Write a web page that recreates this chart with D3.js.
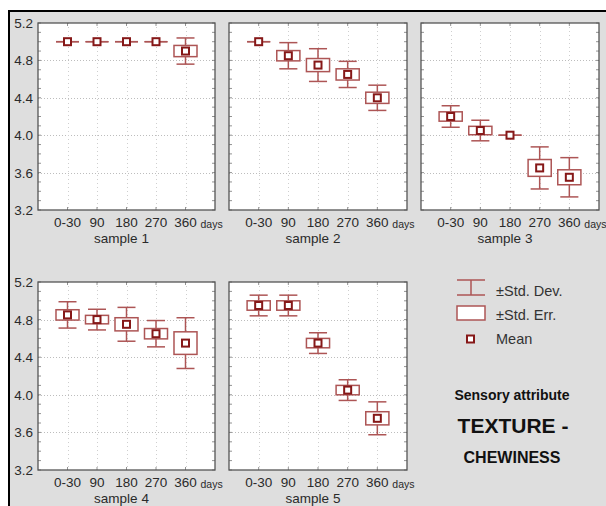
<!DOCTYPE html>
<html>
<head>
<meta charset="utf-8">
<script src="https://cdn.jsdelivr.net/npm/d3@7"></script>
<style>
  html, body { margin: 0; padding: 0; background: #fff; }
  svg { display: block; }
  text { font-family: "Liberation Sans", Arial, sans-serif; }
</style>
</head>
<body>
<div id="chart"></div>
<script>
// Storage time categories (days)
const categories = ["0-30", "90", "180", "270", "360"];
const yTicks = [3.2, 3.6, 4.0, 4.4, 4.8, 5.2];
const sampleNames = ["sample 1", "sample 2", "sample 3", "sample 4", "sample 5"];

// Chewiness scores per sample: mean, standard error, standard deviation
const mean1 = [5.0, 5.0, 5.0, 5.0, 4.9];
const se1   = [0, 0, 0, 0, 0.06];
const sd1   = [0, 0, 0, 0, 0.14];

const mean2 = [5.0, 4.85, 4.75, 4.65, 4.4];
const se2   = [0, 0.055, 0.07, 0.06, 0.06];
const sd2   = [0, 0.14, 0.175, 0.14, 0.135];

const mean3 = [4.2, 4.05, 4.0, 3.65, 3.55];
const se3   = [0.05, 0.045, 0, 0.09, 0.08];
const sd3   = [0.115, 0.11, 0, 0.225, 0.21];

const mean4 = [4.85, 4.8, 4.75, 4.65, 4.55];
const se4   = [0.055, 0.045, 0.07, 0.055, 0.12];
const sd4   = [0.14, 0.11, 0.18, 0.14, 0.27];

const mean5 = [4.95, 4.95, 4.55, 4.05, 3.75];
const se5   = [0.05, 0.05, 0.05, 0.05, 0.07];
const sd5   = [0.11, 0.11, 0.11, 0.11, 0.175];

const W = 606, H = 506;
const svg = d3.select("#chart").append("svg").attr("width", W).attr("height", H);

// page background and frame
svg.append("rect").attr("x", 0).attr("y", 0).attr("width", W).attr("height", H).attr("fill", "#fff");
svg.append("rect").attr("x", 8).attr("y", 10).attr("width", W - 8).attr("height", H - 10).attr("fill", "#dedede");
svg.append("line").attr("x1", 8).attr("x2", W).attr("y1", 11).attr("y2", 11).attr("stroke", "#000").attr("stroke-width", 2);
svg.append("line").attr("x1", 9).attr("x2", 9).attr("y1", 10).attr("y2", H).attr("stroke", "#000").attr("stroke-width", 2);

const panels = [
  { mean: mean1, se: se1, sd: sd1, x0: 38,  x1: 215, y0: 23,  y1: 210, yLabels: true },
  { mean: mean2, se: se2, sd: sd2, x0: 229, x1: 407, y0: 23,  y1: 210, yLabels: false },
  { mean: mean3, se: se3, sd: sd3, x0: 421, x1: 599, y0: 23,  y1: 210, yLabels: false },
  { mean: mean4, se: se4, sd: sd4, x0: 38,  x1: 215, y0: 282, y1: 470, yLabels: true },
  { mean: mean5, se: se5, sd: sd5, x0: 229, x1: 407, y0: 282, y1: 470, yLabels: false }
];

const whiskerColor = "#ad5555";
const meanColor = "#861818";
const frameColor = "#555";
const textColor = "#2a2a2a";

panels.forEach((p, pi) => {
  const x = d3.scalePoint().domain(categories).range([p.x0, p.x1]).padding(1);
  const y = d3.scaleLinear().domain([3.2, 5.2]).range([p.y1, p.y0]);
  const step = x.step();
  const g = svg.append("g");

  g.append("rect").attr("x", p.x0).attr("y", p.y0)
    .attr("width", p.x1 - p.x0).attr("height", p.y1 - p.y0).attr("fill", "#fff");

  // dotted grid
  g.selectAll(".hg").data(yTicks.slice(1, -1)).join("line")
    .attr("x1", p.x0).attr("x2", p.x1)
    .attr("y1", d => Math.round(y(d)) + 0.5).attr("y2", d => Math.round(y(d)) + 0.5)
    .attr("stroke", "#bdbdbd").attr("stroke-dasharray", "1,2");
  g.selectAll(".vg").data(categories).join("line")
    .attr("x1", d => Math.round(x(d)) + 0.5).attr("x2", d => Math.round(x(d)) + 0.5)
    .attr("y1", p.y0).attr("y2", p.y1)
    .attr("stroke", "#cfcfcf").attr("stroke-dasharray", "1,3");

  // minor ticks on left/right edges
  const minor = d3.range(3.2, 5.2001, 0.1);
  g.selectAll(".ml").data(minor).join("line")
    .attr("x1", p.x0).attr("x2", p.x0 + 3)
    .attr("y1", d => y(d)).attr("y2", d => y(d))
    .attr("stroke", "#777").attr("stroke-width", 0.8);
  g.selectAll(".mr").data(minor).join("line")
    .attr("x1", p.x1).attr("x2", p.x1 - 3)
    .attr("y1", d => y(d)).attr("y2", d => y(d))
    .attr("stroke", "#777").attr("stroke-width", 0.8);
  // category ticks top/bottom
  g.selectAll(".tt").data(categories).join("line")
    .attr("x1", d => x(d)).attr("x2", d => x(d))
    .attr("y1", p.y0).attr("y2", p.y0 + 3)
    .attr("stroke", "#777").attr("stroke-width", 0.8);
  g.selectAll(".tb").data(categories).join("line")
    .attr("x1", d => x(d)).attr("x2", d => x(d))
    .attr("y1", p.y1).attr("y2", p.y1 - 3)
    .attr("stroke", "#777").attr("stroke-width", 0.8);

  g.append("rect").attr("x", p.x0).attr("y", p.y0)
    .attr("width", p.x1 - p.x0).attr("height", p.y1 - p.y0)
    .attr("fill", "none").attr("stroke", frameColor).attr("stroke-width", 1.3);

  // y-axis labels
  if (p.yLabels) {
    g.selectAll(".yl").data(yTicks).join("text")
      .attr("x", p.x0 - 5).attr("y", d => y(d) + 5)
      .attr("text-anchor", "end").attr("font-size", 13.5).attr("fill", textColor)
      .text(d => d.toFixed(1));
  }

  // x-axis labels
  g.selectAll(".xl").data(categories).join("text")
    .attr("x", d => x(d)).attr("y", p.y1 + 17)
    .attr("text-anchor", "middle").attr("font-size", 13.5).attr("fill", textColor)
    .text(d => d);
  g.append("text").attr("x", x("360") + 15).attr("y", p.y1 + 18)
    .attr("font-size", 10.5).attr("fill", textColor).text("days");
  g.append("text").attr("x", (p.x0 + p.x1) / 2 - 5).attr("y", p.y1 + 33)
    .attr("text-anchor", "middle").attr("font-size", 13.5).attr("fill", textColor)
    .text(sampleNames[pi]);

  const data = categories.map((c, i) => ({ c, m: p.mean[i], se: p.se[i], sd: p.sd[i] }));
  const boxW = step * 0.78, capW = step * 0.61;

  const items = g.selectAll(".pt").data(data).join("g");
  // SD whisker
  items.append("line")
    .attr("x1", d => x(d.c)).attr("x2", d => x(d.c))
    .attr("y1", d => y(d.m + d.sd)).attr("y2", d => y(d.m - d.sd))
    .attr("stroke", whiskerColor).attr("stroke-width", 1.5);
  items.append("line")
    .attr("x1", d => x(d.c) - (d.sd > 0 ? capW : boxW) / 2).attr("x2", d => x(d.c) + (d.sd > 0 ? capW : boxW) / 2)
    .attr("y1", d => y(d.m + d.sd)).attr("y2", d => y(d.m + d.sd))
    .attr("stroke", whiskerColor).attr("stroke-width", 1.5);
  items.append("line")
    .attr("x1", d => x(d.c) - (d.sd > 0 ? capW : boxW) / 2).attr("x2", d => x(d.c) + (d.sd > 0 ? capW : boxW) / 2)
    .attr("y1", d => y(d.m - d.sd)).attr("y2", d => y(d.m - d.sd))
    .attr("stroke", whiskerColor).attr("stroke-width", 1.5);
  // SE box
  items.filter(d => d.se > 0).append("rect")
    .attr("x", d => x(d.c) - boxW / 2).attr("width", boxW)
    .attr("y", d => y(d.m + d.se)).attr("height", d => y(d.m - d.se) - y(d.m + d.se))
    .attr("fill", "#fff").attr("stroke", whiskerColor).attr("stroke-width", 1.5);
  // mean marker
  items.append("rect")
    .attr("x", d => x(d.c) - 3.5).attr("y", d => y(d.m) - 3.5)
    .attr("width", 7).attr("height", 7)
    .attr("fill", "#fff").attr("stroke", meanColor).attr("stroke-width", 2);
});

// legend
const lg = svg.append("g");
const lx0 = 457, lx1 = 485, lc = 471;
lg.append("line").attr("x1", lx0).attr("x2", lx1).attr("y1", 280).attr("y2", 280).attr("stroke", whiskerColor).attr("stroke-width", 1.5);
lg.append("line").attr("x1", lx0).attr("x2", lx1).attr("y1", 295).attr("y2", 295).attr("stroke", whiskerColor).attr("stroke-width", 1.5);
lg.append("line").attr("x1", lc).attr("x2", lc).attr("y1", 280).attr("y2", 295).attr("stroke", whiskerColor).attr("stroke-width", 1.5);
lg.append("rect").attr("x", lx0).attr("y", 306).attr("width", lx1 - lx0).attr("height", 14)
  .attr("fill", "#fff").attr("stroke", whiskerColor).attr("stroke-width", 1.5);
lg.append("rect").attr("x", 467).attr("y", 335.5).attr("width", 7).attr("height", 7)
  .attr("fill", "#fff").attr("stroke", meanColor).attr("stroke-width", 2);
const legendLabels = ["±Std. Dev.", "±Std. Err.", "Mean"];
lg.selectAll(".lt").data(legendLabels).join("text")
  .attr("x", 496).attr("y", (d, i) => 296 + i * 24)
  .attr("font-size", 14.5).attr("fill", "#333").text(d => d);

// title block
const tg = svg.append("g").attr("font-weight", "bold").attr("fill", "#111").attr("text-anchor", "middle");
tg.append("text").attr("x", 512).attr("y", 400).attr("font-size", 14).text("Sensory attribute");
tg.append("text").attr("x", 513).attr("y", 433).attr("font-size", 21).text("TEXTURE -");
tg.append("text").attr("x", 512).attr("y", 463).attr("font-size", 16).text("CHEWINESS");
</script>
</body>
</html>
